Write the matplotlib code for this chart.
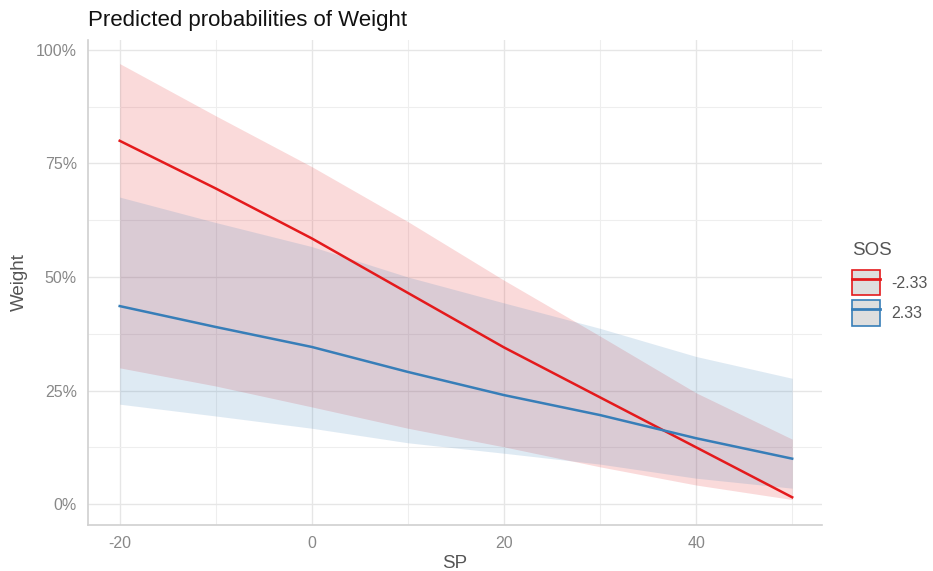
import matplotlib.pyplot as plt
from matplotlib.patches import Patch
from matplotlib.lines import Line2D
from matplotlib.ticker import FixedLocator

plt.rcParams['font.family'] = ['Liberation Sans', 'DejaVu Sans']

# SP values and predicted probabilities
sp = [-20, -10, 0, 10, 20, 30, 40, 50]

red_fit = [0.80, 0.695, 0.585, 0.465, 0.345, 0.235, 0.125, 0.015]
red_lo = [0.30, 0.26, 0.214, 0.167, 0.126, 0.082, 0.042, 0.01]
red_hi = [0.97, 0.855, 0.743, 0.622, 0.493, 0.37, 0.245, 0.143]

blue_fit = [0.436, 0.39, 0.346, 0.291, 0.240, 0.196, 0.145, 0.10]
blue_lo = [0.22, 0.194, 0.167, 0.135, 0.112, 0.088, 0.057, 0.035]
blue_hi = [0.676, 0.62, 0.567, 0.50, 0.443, 0.387, 0.325, 0.277]

labels = ['-2.33', '2.33']
red = '#e41a1c'
blue = '#377eb8'

fig = plt.figure(figsize=(9.33, 5.71), dpi=100)
ax = fig.add_axes([0.0943, 0.0806, 0.7867, 0.8494])

ax.fill_between(sp, red_lo, red_hi, color=red, alpha=0.16, linewidth=0)
ax.fill_between(sp, blue_lo, blue_hi, color=blue, alpha=0.16, linewidth=0)
ax.plot(sp, red_fit, color=red, linewidth=1.8)
ax.plot(sp, blue_fit, color=blue, linewidth=1.8)

ax.set_xlim(-23.3, 53.1)
ax.set_ylim(-0.046, 1.022)
ax.set_xticks([-20, 0, 20, 40])
ax.set_xticklabels(['-20', '0', '20', '40'])
ax.set_yticks([0, 0.25, 0.5, 0.75, 1.0])
ax.set_yticklabels(['0%', '25%', '50%', '75%', '100%'])
ax.xaxis.set_minor_locator(FixedLocator([-10, 10, 30, 50]))
ax.yaxis.set_minor_locator(FixedLocator([0.125, 0.375, 0.625, 0.875]))
ax.grid(True, which='major', color='#e6e6e6', linewidth=1.0)
ax.grid(True, which='minor', color='#eeeeee', linewidth=0.8)
ax.set_axisbelow(True)
ax.tick_params(which='both', length=0, colors='#888888', labelsize=11.5, pad=8)

for s in ['top', 'right']:
    ax.spines[s].set_visible(False)
for s in ['left', 'bottom']:
    ax.spines[s].set_color('#d0d0d0')
    ax.spines[s].set_linewidth(1.2)

ax.set_xlabel('SP', fontsize=13.5, color='#555555', labelpad=3)
ax.set_ylabel('Weight', fontsize=13.5, color='#555555', labelpad=6)
fig.text(0.0943, 0.955, 'Predicted probabilities of Weight', fontsize=16, color='#111111')

handles = []
for c in [red, blue]:
    box = Patch(facecolor='#dedede', edgecolor=c, linewidth=1.2)
    ln = Line2D([], [], color=c, linewidth=2)
    handles.append((box, ln))
leg = fig.legend(handles, labels, title='SOS', loc='upper left',
                 bbox_to_anchor=(0.906, 0.588), frameon=False, borderaxespad=0,
                 fontsize=11.5, title_fontsize=13.5, handlelength=1.8,
                 handleheight=2.1, labelspacing=0.3, handletextpad=0.7)
for t in leg.get_texts():
    t.set_color('#555555')
leg.get_title().set_color('#555555')
leg._legend_box.align = 'left'
leg._legend_box.sep = 8

fig.savefig('out.png', dpi=100)
